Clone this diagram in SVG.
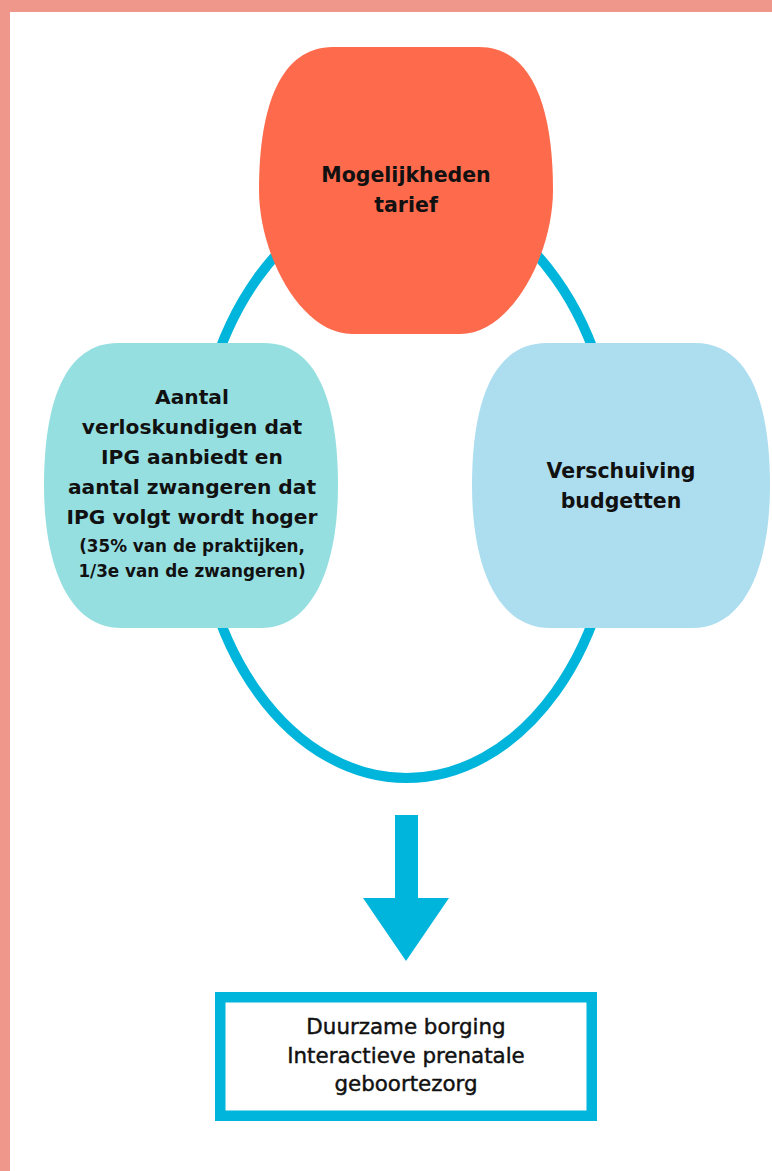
<svg xmlns="http://www.w3.org/2000/svg" width="772" height="1171" viewBox="0 0 772 1171">
  <style>
    .t { font-family: "DejaVu Sans", "Liberation Sans", sans-serif; fill: #111; text-anchor: middle; }
    .title { font-weight: bold; font-size: 20.5px; }
    .main { font-weight: bold; font-size: 20.2px; }
    .small { font-weight: bold; font-size: 16.8px; }
    .box { font-weight: normal; font-size: 21.4px; stroke: #111; stroke-width: 0.45px; }
  </style>
  <rect x="0" y="0" width="772" height="1171" fill="#ffffff"/>
  <!-- frame -->
  <rect x="0" y="0" width="772" height="12" fill="#EE978A"/>
  <rect x="0" y="0" width="10" height="1171" fill="#EE978A"/>

  <g id="connectors">
    <ellipse cx="406.5" cy="485" rx="210.5" ry="293" fill="none" stroke="#00B5DB" stroke-width="10"/>
    <path d="M395 815 H418 V898 H449 L406 961 L363 898 H395 Z" fill="#00B5DB"/>
  </g>

  <g id="node-tarief">
    <path d="M333 47 H479 C531 47 553 105 553 190 C553 255 511 334 460 334 H352 C301 334 259 255 259 190 C259 105 281 47 333 47 Z" fill="#FE6A4C"/>
    <text class="t title" x="406" y="182">Mogelijkheden</text>
    <text class="t title" x="406" y="212">tarief</text>
  </g>

  <g id="node-aantal">
    <path d="M118 343 H264 C316 343 338 400 338 485.5 C338 568 312 628 261 628 H121 C70 628 44 568 44 485.5 C44 400 66 343 118 343 Z" fill="#95DFE1"/>
    <text class="t main" x="192" y="404">Aantal</text>
    <text class="t main" x="192" y="434">verloskundigen dat</text>
    <text class="t main" x="192" y="464">IPG aanbiedt en</text>
    <text class="t main" x="192" y="494">aantal zwangeren dat</text>
    <text class="t main" x="192" y="524">IPG volgt wordt hoger</text>
    <text class="t small" x="192" y="552">(35% van de praktijken,</text>
    <text class="t small" x="192" y="577">1/3e van de zwangeren)</text>
  </g>

  <g id="node-budgetten">
    <path d="M547 343 H695 C748 343 770 400 770 485.5 C770 568 744 628 692 628 H550 C498 628 472 568 472 485.5 C472 400 494 343 547 343 Z" fill="#ADDEF0"/>
    <text class="t title" x="621" y="478">Verschuiving</text>
    <text class="t title" x="621" y="508">budgetten</text>
  </g>

  <g id="node-borging">
    <rect x="220.25" y="997.25" width="371.5" height="118.5" fill="#ffffff" stroke="#00B5DB" stroke-width="10.5"/>
    <text class="t box" x="406" y="1034">Duurzame borging</text>
    <text class="t box" x="406" y="1063">Interactieve prenatale</text>
    <text class="t box" x="406" y="1091">geboortezorg</text>
  </g>
</svg>
